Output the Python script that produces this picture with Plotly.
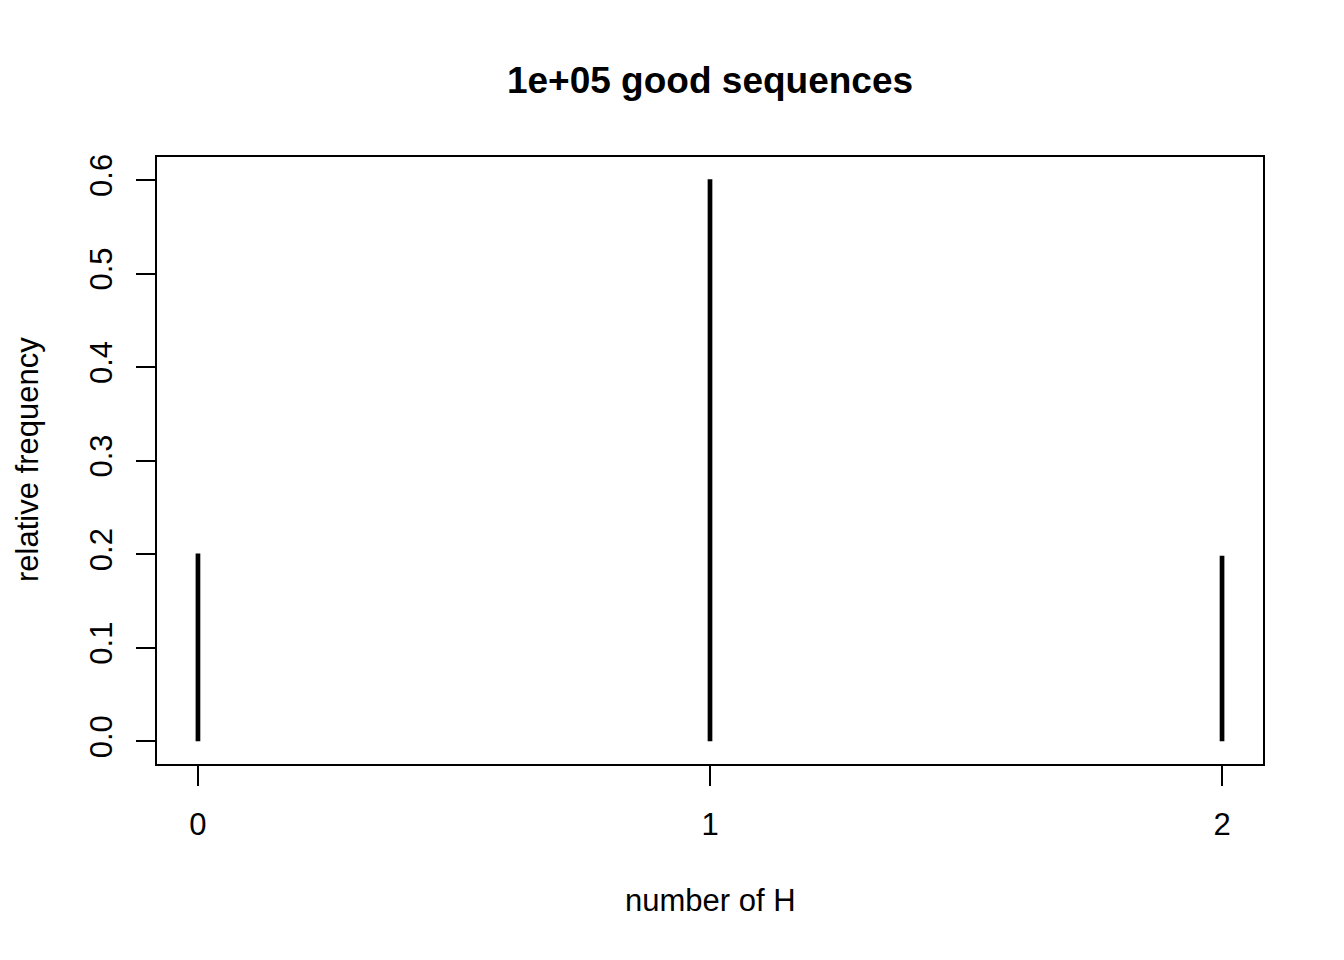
import plotly.graph_objects as go

num_h = [0, 1, 2]
rel_freq = [0.2008, 0.6007, 0.1985]
y_ticks = [0.0, 0.1, 0.2, 0.3, 0.4, 0.5, 0.6]
y_tick_text = ["0.0", "0.1", "0.2", "0.3", "0.4", "0.5", "0.6"]
x_ticks = [0, 1, 2]
title_text = "1e+05 good sequences"
x_label = "number of H"
y_label = "relative frequency"

xs, ys = [], []
for x, y in zip(num_h, rel_freq):
    xs += [x, x, None]
    ys += [0, y, None]

FONT = "Liberation Sans, Arial, sans-serif"
FS = 31

fig = go.Figure()
fig.add_trace(go.Scatter(x=xs, y=ys, mode="lines",
                         line=dict(color="black", width=4.7),
                         showlegend=False, hoverinfo="skip"))

W, H = 1344, 960
OFF = 8  # page body margin
PL, PR, PT, PB = 157, 1263, 157, 764  # target plot box in page pixels
L, T = PL - OFF, PT - OFF
R = W + OFF - PR
B = H + OFF - PB

fig.update_layout(
    width=W, height=H,
    margin=dict(l=L, r=R, t=T, b=B, pad=0),
    paper_bgcolor="white", plot_bgcolor="white",
    font=dict(family=FONT, size=FS, color="black"),
    title=dict(text="<b>" + title_text + "</b>", x=0.5, xanchor="center",
               xref="paper", y=1 - (80 - OFF) / H, yanchor="middle", yref="container",
               font=dict(family=FONT, size=37, color="black")),
    xaxis=dict(range=[-0.08, 2.08], tickvals=x_ticks,
               ticktext=[str(v) for v in x_ticks],
               showgrid=False, zeroline=False,
               showline=True, mirror=True, linecolor="black", linewidth=2,
               ticks="outside", ticklen=20, tickwidth=2, tickcolor="black",
               tickfont=dict(family=FONT, size=FS, color="black"),
               ticklabelstandoff=12),
    yaxis=dict(range=[-0.0242, 0.6246], tickvals=y_ticks, ticktext=y_tick_text,
               showgrid=False, zeroline=False,
               showline=True, mirror=True, linecolor="black", linewidth=2,
               ticks="outside", ticklen=19, tickwidth=2, tickcolor="black",
               tickangle=-90,
               tickfont=dict(family=FONT, size=FS, color="black"),
               ticklabelstandoff=12),
    annotations=[
        dict(text=x_label, xref="paper", yref="paper",
             x=(710 - PL) / (PR - PL), y=(PB - 900) / (PB - PT),
             xanchor="center", yanchor="middle", showarrow=False,
             font=dict(family=FONT, size=FS, color="black")),
        dict(text=y_label, xref="paper", yref="paper",
             x=(27 - PL) / (PR - PL), y=(PB - 460) / (PB - PT),
             xanchor="center", yanchor="middle", textangle=-90, showarrow=False,
             font=dict(family=FONT, size=FS, color="black")),
    ],
)

fig.write_html("out.html")
